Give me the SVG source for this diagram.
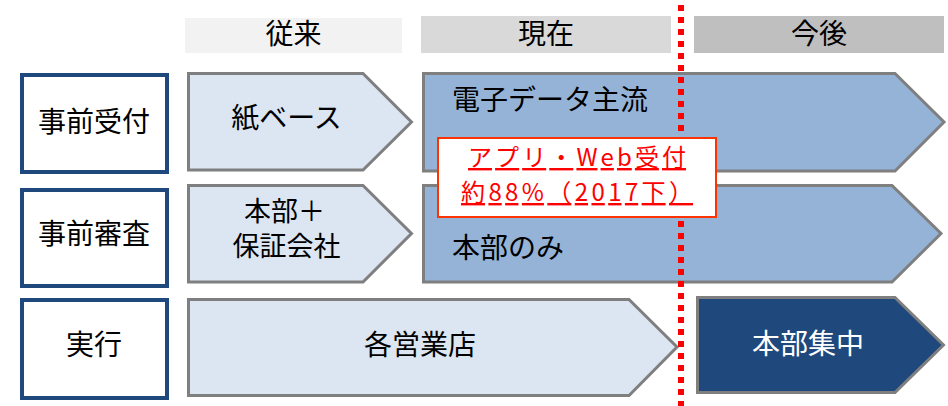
<svg xmlns="http://www.w3.org/2000/svg" width="948" height="406" viewBox="0 0 948 406">
<style>
text{font-family:"Noto Sans CJK JP","Noto Sans",sans-serif;font-size:28px;fill:#000}
.hd{text-anchor:middle}
.lb{fill:#fff;stroke:#1F497D;stroke-width:4}
.lt{text-anchor:middle}
.sm{font-size:27px}
.a1{fill:#DCE6F2;stroke:#7F7F7F;stroke-width:3}
.a2{fill:#95B3D7;stroke:#7F7F7F;stroke-width:3}
.a3{fill:#1F497D;stroke:#7F7F7F;stroke-width:3}
.co{fill:#FF0000;font-size:24px;text-decoration:underline;text-anchor:middle}
</style>
<g id="headers">
<rect x="185" y="18" width="217" height="35" fill="#F2F2F2"/>
<text class="hd" x="293.5" y="44">従来</text>
<rect x="421" y="16" width="250" height="37" fill="#D9D9D9"/>
<text class="hd" x="546" y="44">現在</text>
<rect x="694" y="16" width="250" height="37" fill="#BFBFBF"/>
<text class="hd" x="819" y="44">今後</text>
</g>
<g id="label-uketsuke">
<rect class="lb" x="22" y="75" width="145" height="97"/>
<text class="lt" x="94" y="132">事前受付</text>
</g>
<g id="label-shinsa">
<rect class="lb" x="22" y="190" width="145" height="96"/>
<text class="lt" x="94" y="244">事前審査</text>
</g>
<g id="label-jikko">
<rect class="lb" x="22" y="300" width="145" height="98"/>
<text class="lt" x="94" y="355">実行</text>
</g>
<g id="arrow-kami">
<polygon class="a1" points="188.5,73.5 363,73.5 411.5,122 363,170 188.5,170"/>
<text class="lt" x="286.5" y="128">紙ベース</text>
</g>
<g id="arrow-denshi">
<polygon class="a2" points="423.5,73.5 895,73.5 944,122 895,171 423.5,171"/>
<text x="452" y="110">電子データ主流</text>
</g>
<g id="arrow-honbu-hosho">
<polygon class="a1" points="188.5,185.5 363,185.5 411.5,233.5 363,282 188.5,282"/>
<text class="lt sm" x="284.5" y="221">本部＋</text>
<text class="lt sm" x="286.5" y="256">保証会社</text>
</g>
<g id="arrow-honbu-nomi">
<polygon class="a2" points="423.5,185.5 892,185.5 941,233.5 892,282 423.5,282"/>
<text x="452" y="258">本部のみ</text>
</g>
<g id="arrow-eigyoten">
<polygon class="a1" points="188.5,299.5 629,299.5 677,347 629,395.5 188.5,395.5"/>
<text class="lt" x="420" y="355">各営業店</text>
</g>
<g id="arrow-shuchu">
<polygon class="a3" points="697.5,297.5 895,297.5 943.5,345 895,392.5 697.5,392.5"/>
<text class="lt" x="808" y="354" style="fill:#fff">本部集中</text>
</g>
<g id="connectors">
<line x1="681" y1="5" x2="681" y2="406" stroke="#FF0000" stroke-width="6" stroke-dasharray="6 6"/>
</g>
<g id="callout">
<rect x="438" y="138" width="278" height="79" fill="#fff" stroke="#FF3300" stroke-width="2"/>
<text class="co" x="577" y="166" textLength="218">アプリ・Web受付</text>
<text class="co" x="577" y="201" textLength="232">約88%（2017下）</text>
</g>
</svg>
